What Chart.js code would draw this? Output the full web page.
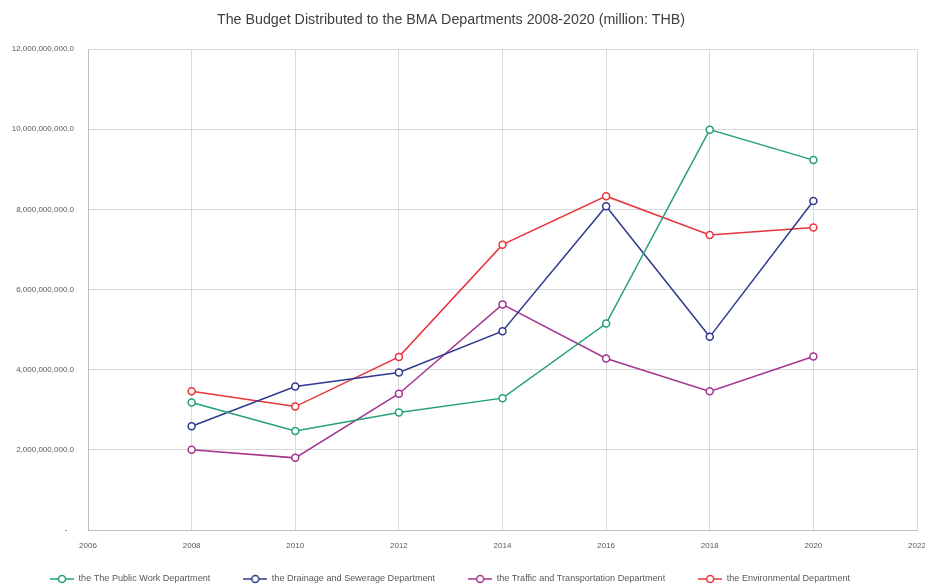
<!DOCTYPE html>
<html>
<head>
<meta charset="utf-8">
<script src="https://cdn.jsdelivr.net/npm/chart.js@4.4.1/dist/chart.umd.min.js"></script>
<style>
  html, body { margin: 0; padding: 0; background: #fff; }
  #wrap { width: 925px; height: 586px; }
</style>
</head>
<body>
<div id="wrap"><canvas id="chart1" width="925" height="586"></canvas></div>
<script>
    // years on the x axis
    var years = [2008, 2010, 2012, 2014, 2016, 2018, 2020];

    // budgets in THB
    var publicWork   = [3.18e9, 2.47e9, 2.93e9, 3.29e9, 5.15e9, 9.99e9, 9.23e9];
    var drainage     = [2.59e9, 3.58e9, 3.93e9, 4.96e9, 8.08e9, 4.82e9, 8.21e9];
    var traffic      = [2.00e9, 1.80e9, 3.40e9, 5.63e9, 4.28e9, 3.46e9, 4.33e9];
    var environment  = [3.46e9, 3.08e9, 4.32e9, 7.12e9, 8.33e9, 7.36e9, 7.55e9];

    var seriesNames = [
        'the The Public Work Department',
        'the Drainage and Sewerage Department',
        'the Traffic and Transportation Department',
        'the Environmental Department'
    ];
    var seriesColors = ['#22a07b', '#2e3a8f', '#a3348f', '#e8343a'];
    var seriesValues = [publicWork, drainage, traffic, environment];

    var xTicks = [2006, 2008, 2010, 2012, 2014, 2016, 2018, 2020, 2022];
    var yTicks = [0, 2e9, 4e9, 6e9, 8e9, 10e9, 12e9];

    function toPoints(vals) {
        return years.map(function(y, i) { return {x: y, y: vals[i]}; });
    }

    // little line + circle picture for the legend
    function legendMark(color) {
        var c = document.createElement('canvas');
        c.width = 24; c.height = 10;
        var g = c.getContext('2d');
        g.strokeStyle = color;
        g.lineWidth = 1.5;
        g.beginPath(); g.moveTo(0, 5); g.lineTo(24, 5); g.stroke();
        g.fillStyle = '#fff';
        g.beginPath(); g.arc(12, 5, 3.5, 0, Math.PI * 2); g.fill(); g.stroke();
        return c;
    }

    var datasets = seriesValues.map(function(vals, i) {
        return {
            label: seriesNames[i],
            data: toPoints(vals),
            borderColor: seriesColors[i],
            backgroundColor: '#ffffff',
            pointBackgroundColor: '#ffffff',
            pointBorderColor: seriesColors[i],
            pointRadius: 3.5,
            pointBorderWidth: 1.5,
            borderWidth: 1.5,
            tension: 0
        };
    });

    var marks = seriesColors.map(legendMark);
    var font = "'Liberation Sans', Arial, sans-serif";

    function fmtMoney(v) {
        if (v === 0) return '-   ';
        return v.toLocaleString('en-US') + '.0';
    }

    // nudge title and legend to where the original has them
    var placeBoxes = {
        id: 'placeBoxes',
        afterLayout: function(chart) {
            if (chart.titleBlock) {
                chart.titleBlock.left -= 23;
            }
            if (chart.legend) {
                chart.legend.left = 17;
                chart.legend.top = 541.4;
            }
        }
    };

    var ctx = document.getElementById('chart1').getContext('2d');
    var myChart = new Chart(ctx, {
        type: 'line',
        data: { datasets: datasets },
        plugins: [placeBoxes],
        options: {
            responsive: false,
            animation: false,
            layout: { padding: { left: 8, right: 8, top: 0, bottom: 0 } },
            scales: {
                x: {
                    type: 'linear',
                    min: 2006,
                    max: 2022,
                    afterBuildTicks: function(scale) {
                        scale.ticks = xTicks.map(function(v) { return {value: v}; });
                    },
                    afterFit: function(scale) {
                        scale.height = 22;
                        scale.paddingLeft = 0;
                        scale.paddingRight = 0;
                    },
                    grid: { color: '#d9d9d9', lineWidth: 1, drawTicks: false },
                    border: { color: '#bfbfbf' },
                    ticks: {
                        padding: 11,
                        maxRotation: 0,
                        autoSkip: false,
                        color: '#595959',
                        font: { family: font, size: 8 },
                        callback: function(v) { return String(v); }
                    }
                },
                y: {
                    min: 0,
                    max: 12e9,
                    afterBuildTicks: function(scale) {
                        scale.ticks = yTicks.map(function(v) { return {value: v}; });
                    },
                    afterFit: function(scale) {
                        scale.width = 80;
                        scale.paddingTop = 0;
                        scale.paddingBottom = 0;
                    },
                    grid: { color: '#d9d9d9', lineWidth: 1, drawTicks: false },
                    border: { color: '#bfbfbf' },
                    ticks: {
                        padding: 14,
                        color: '#595959',
                        font: { family: font, size: 8 },
                        callback: function(v) { return fmtMoney(v); }
                    }
                }
            },
            plugins: {
                title: {
                    display: true,
                    text: 'The Budget Distributed to the BMA Departments 2008-2020 (million: THB)',
                    color: '#404040',
                    font: { family: font, size: 14.25, weight: 'normal' },
                    padding: { top: 12, bottom: 20 }
                },
                legend: {
                    position: 'bottom',
                    align: 'start',
                    maxHeight: 34,
                    labels: {
                        usePointStyle: true,
                        pointStyleWidth: 24,
                        padding: 33,
                        color: '#595959',
                        font: { family: font, size: 9.1 },
                        generateLabels: function(chart) {
                            var items = Chart.defaults.plugins.legend.labels.generateLabels(chart);
                            items.forEach(function(it, i) { it.pointStyle = marks[i]; });
                            return items;
                        }
                    }
                },
                tooltip: { enabled: false }
            }
        }
    });
</script>
</body>
</html>
